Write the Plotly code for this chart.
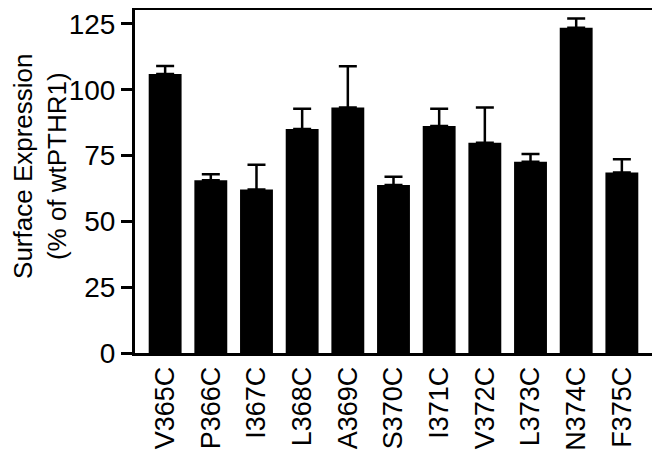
import plotly.graph_objects as go

mutants = ['V365C', 'P366C', 'I367C', 'L368C', 'A369C', 'S370C',
           'I371C', 'V372C', 'L373C', 'N374C', 'F375C']
expression = [106.0, 65.6, 62.1, 85.1, 93.3, 63.8, 86.2, 79.9, 72.7, 123.6, 68.6]
sem = [3.0, 2.3, 9.4, 7.7, 15.6, 3.2, 6.6, 13.4, 2.9, 3.5, 5.0]

fig = go.Figure(data=[
    go.Bar(
        x=mutants,
        y=expression,
        width=0.72,
        marker=dict(color='black', line=dict(width=0)),
        error_y=dict(type='data', array=sem, symmetric=False, arrayminus=[0] * len(sem),
                     color='black', thickness=2.5, width=9),
    )
])

# page body adds ~8px offset, so the figure is a bit smaller than the window
fig.update_layout(
    template='simple_white',
    width=652,
    height=445,
    margin=dict(l=127, r=8, t=2, b=100),
    plot_bgcolor='white',
    paper_bgcolor='white',
    font=dict(family='Liberation Sans, Arial', color='black'),
    showlegend=False,
    xaxis=dict(
        automargin=False,
        range=[-0.66, 10.66],
        showline=True, linewidth=3, linecolor='black', mirror=True,
        ticks='', tickangle=-90, tickfont=dict(size=27),
        showgrid=False,
    ),
    yaxis=dict(
        automargin=False,
        range=[0, 130.3],
        tickvals=[0, 25, 50, 75, 100, 125],
        showline=True, linewidth=3, linecolor='black', mirror=True,
        ticks='outside', ticklen=11, tickwidth=3, tickcolor='black',
        tickfont=dict(size=28),
        showgrid=False, zeroline=False,
    ),
    annotations=[dict(
        text='Surface Expression<br>(% of wtPTHR1)',
        xref='paper', yref='paper', x=-0.184, y=0.545,
        xanchor='center', yanchor='middle',
        textangle=-90, showarrow=False,
        font=dict(size=26, color='black'),
    )],
)

fig.write_html("out.html")
